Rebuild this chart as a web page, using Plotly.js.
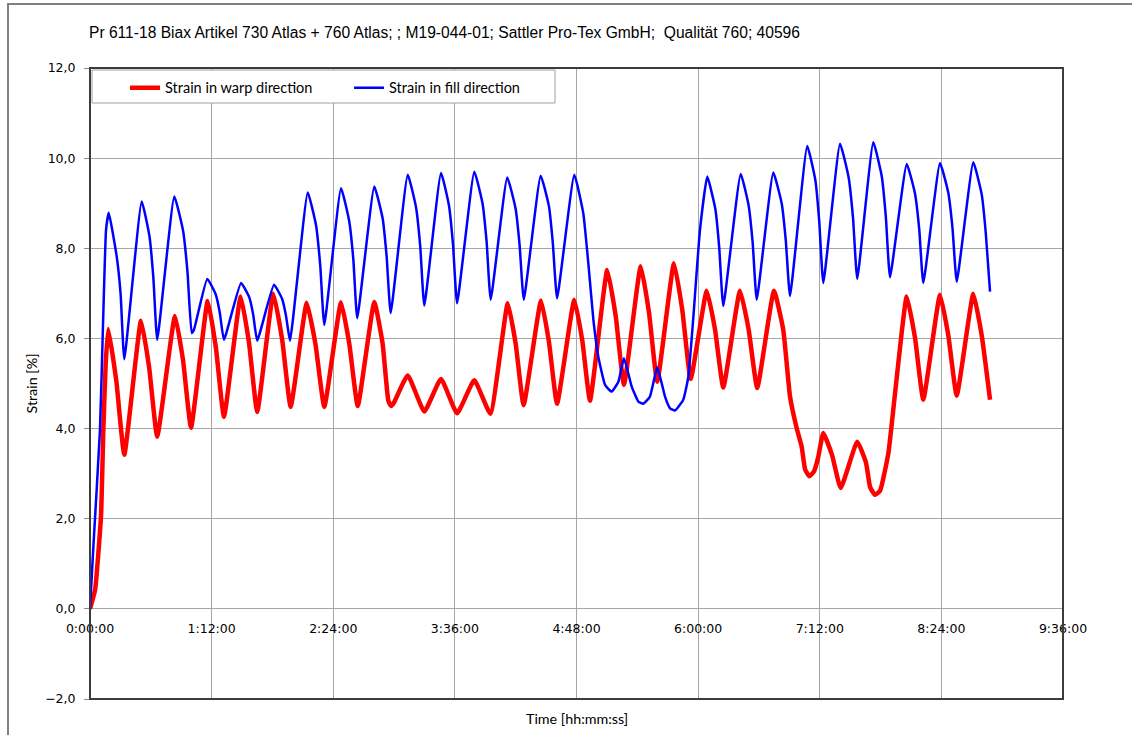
<!DOCTYPE html>
<html>
<head>
<meta charset="utf-8">
<script src="https://cdn.plot.ly/plotly-3.0.1.min.js"></script>
<style>
html,body{margin:0;padding:0;background:#fff;}
#chart{width:1132px;height:735px;}
</style>
</head>
<body>
<div id="chart"></div>
<script>
// Time in minutes since start
const warpTime = [0.0,3.0,6.5,7.9,9.3,10.8,15.6,20.3,30.2,35.0,39.8,50.3,55.1,59.8,69.7,74.5,79.3,89.2,94.1,99.0,108.5,113.7,118.8,128.3,133.5,138.7,148.6,153.5,158.5,168.3,173.2,176.6,178.2,180.0,188.1,197.9,207.8,217.3,227.5,237.0,247.3,252.0,256.7,267.0,271.7,276.5,286.7,291.4,296.0,306.2,311.2,316.1,326.0,330.9,335.8,345.7,350.6,355.6,365.1,370.0,374.9,384.8,389.9,395.0,404.9,410.4,414.4,418.4,421.3,423.3,425.8,428.6,431.0,434.1,439.3,444.4,454.2,459.4,461.8,464.7,467.7,472.6,476.6,483.5,488.4,493.3,503.2,508.1,513.1,522.9,527.9,532.8];
const warpStrain = [0.00,0.42,2.05,3.97,5.45,6.21,5.05,3.42,6.39,5.36,3.82,6.50,5.51,4.02,6.83,5.80,4.26,6.93,5.91,4.37,6.99,5.99,4.48,6.79,5.87,4.48,6.80,5.88,4.50,6.81,5.89,4.62,4.50,4.58,5.18,4.38,5.10,4.34,5.07,4.33,6.78,5.88,4.52,6.84,5.92,4.55,6.86,5.96,4.62,7.52,6.50,4.97,7.60,6.58,5.04,7.67,6.64,5.10,7.06,6.20,4.91,7.06,6.20,4.90,7.06,6.19,4.71,4.00,3.60,3.10,2.94,3.05,3.35,3.90,3.41,2.68,3.71,3.24,2.70,2.53,2.62,3.45,4.79,6.93,6.01,4.64,6.97,6.07,4.73,6.99,6.06,4.64];

const fillTime = [0.0,2.0,5.9,7.9,9.5,11.1,15.8,18.1,20.3,30.6,35.2,37.5,39.8,49.9,55.1,57.7,60.2,61.6,69.4,74.4,76.8,79.3,89.4,94.3,96.6,99.0,108.9,113.7,116.0,118.4,128.9,133.8,136.3,138.7,148.6,153.4,155.9,158.2,168.3,173.2,175.6,178.0,188.1,193.0,195.5,197.9,207.8,212.5,214.9,217.3,227.5,232.4,234.8,237.2,247.0,251.9,254.3,256.8,266.8,271.7,274.0,276.5,286.7,292.0,295.0,298.0,300.9,304.9,308.8,312.8,316.1,320.7,324.6,327.5,331.5,335.8,340.4,343.4,346.3,351.2,354.2,357.2,361.1,365.4,370.2,372.5,374.9,385.2,389.9,392.3,394.7,404.5,409.5,411.9,414.4,424.6,429.4,431.7,434.1,444.0,449.1,451.7,454.2,463.7,468.7,471.1,473.6,483.5,488.4,490.9,493.3,503.2,508.1,510.6,513.1,522.9,527.9,530.3,532.8];
const fillStrain = [0.00,1.38,3.97,6.57,8.41,8.79,7.82,7.00,5.54,9.04,8.27,7.35,5.97,9.15,8.39,7.48,6.12,6.20,7.32,6.98,6.58,5.97,7.23,6.91,6.53,5.95,7.19,6.88,6.51,5.95,9.24,8.51,7.62,6.30,9.33,8.61,7.75,6.45,9.37,8.67,7.82,6.56,9.63,8.91,8.04,6.73,9.67,8.95,8.08,6.78,9.70,8.99,8.14,6.86,9.57,8.89,8.08,6.86,9.61,8.93,8.11,6.89,9.63,8.78,7.67,6.41,5.60,4.97,4.82,5.04,5.56,4.93,4.60,4.55,4.71,5.36,4.71,4.45,4.40,4.64,5.15,6.49,8.41,9.59,8.87,8.01,6.72,9.65,8.95,8.12,6.86,9.68,8.99,8.17,6.94,10.27,9.51,8.60,7.23,10.32,9.57,8.67,7.32,10.35,9.60,8.71,7.36,9.87,9.21,8.42,7.23,9.89,9.23,8.44,7.26,9.91,9.19,8.33,7.04];

const xTickVals = [0,72,144,216,288,360,432,504,576];
const xTickText = ['0:00:00','1:12:00','2:24:00','3:36:00','4:48:00','6:00:00','7:12:00','8:24:00','9:36:00'];
const yTickVals = [-2,0,2,4,6,8,10,12];

const titleText = 'Pr 611-18 Biax Artikel 730 Atlas + 760 Atlas; ; M19-044-01; Sattler Pro-Tex GmbH;  Qualität 760; 40596';
const seriesNames = ['Strain in warp direction','Strain in fill direction'];

const traces = [
  {x: warpTime, y: warpStrain, name: seriesNames[0], type: 'scatter', mode: 'lines',
   line: {color: '#ff0000', width: 4.5, shape: 'spline', smoothing: 0.4}},
  {x: fillTime, y: fillStrain, name: seriesNames[1], type: 'scatter', mode: 'lines',
   line: {color: '#0000ff', width: 2.5, shape: 'spline', smoothing: 0.4}}
];

const layout = {
  width: 1132, height: 735,
  margin: {l: 90, r: 69, t: 68, b: 36},
  paper_bgcolor: '#ffffff', plot_bgcolor: '#ffffff',
  separators: ', ',
  showlegend: true,
  title: {text: titleText, x: 89/1132, xref: 'container', xanchor: 'left',
          y: 1 - 33/735, yref: 'container', yanchor: 'middle',
          font: {family: 'Liberation Sans, Arial, sans-serif', size: 15.6, color: '#000'}},
  xaxis: {range: [0, 576], tickvals: xTickVals, ticktext: xTickText,
          anchor: 'free', position: 2/14,
          showgrid: true, gridcolor: '#a6a6a6', gridwidth: 1,
          zeroline: false, showline: false, ticks: '',
          ticklabelstandoff: 11,
          tickfont: {family: 'DejaVu Sans, sans-serif', size: 12.5, color: '#000'}},
  yaxis: {range: [-2, 12], tickvals: yTickVals, tickformat: '.1f',
          showgrid: true, gridcolor: '#a6a6a6', gridwidth: 1,
          zeroline: false, showline: false, ticks: 'outside', ticklen: 5, tickcolor: '#8c8c8c',
          ticklabelstandoff: 6,
          tickfont: {family: 'DejaVu Sans, sans-serif', size: 12.5, color: '#000'},
          title: {text: 'Strain [%]', standoff: 4,
                  font: {family: 'Lato, Carlito, sans-serif', size: 14.3, color: '#000'}}},
  legend: {orientation: 'h', x: 0.036, xanchor: 'left', y: 0.994, yanchor: 'top',
           bgcolor: 'rgba(0,0,0,0)', borderwidth: 0,
           entrywidth: 179, entrywidthmode: 'pixels',
           font: {family: 'Lato, Carlito, sans-serif', size: 14.5, color: '#000'}},
  annotations: [
    {text: 'Time [hh:mm:ss]', xref: 'paper', yref: 'paper', x: 0.5, y: (699-718)/631,
     xanchor: 'center', yanchor: 'middle', showarrow: false,
     font: {family: 'Lato, Carlito, sans-serif', size: 14.3, color: '#000'}}
  ],
  shapes: [
    {type: 'rect', xref: 'paper', yref: 'paper', x0: 0, x1: 1, y0: 0, y1: 1,
     line: {color: '#3c3c3c', width: 2}, layer: 'above'},
    {type: 'rect', xref: 'paper', yref: 'paper', x0: (92-90)/973, x1: (555-90)/973,
     y0: (699-103)/631, y1: (699-70)/631,
     fillcolor: '#ffffff', line: {color: '#a0a0a0', width: 1}, layer: 'above'},
    {type: 'rect', xref: 'paper', yref: 'paper', x0: (8-90)/973, x1: 1.2,
     y0: -0.2, y1: (699-4)/631,
     line: {color: '#808080', width: 2}, layer: 'above'}
  ]
};

Plotly.newPlot('chart', traces, layout, {displayModeBar: false, staticPlot: true});
</script>
</body>
</html>
